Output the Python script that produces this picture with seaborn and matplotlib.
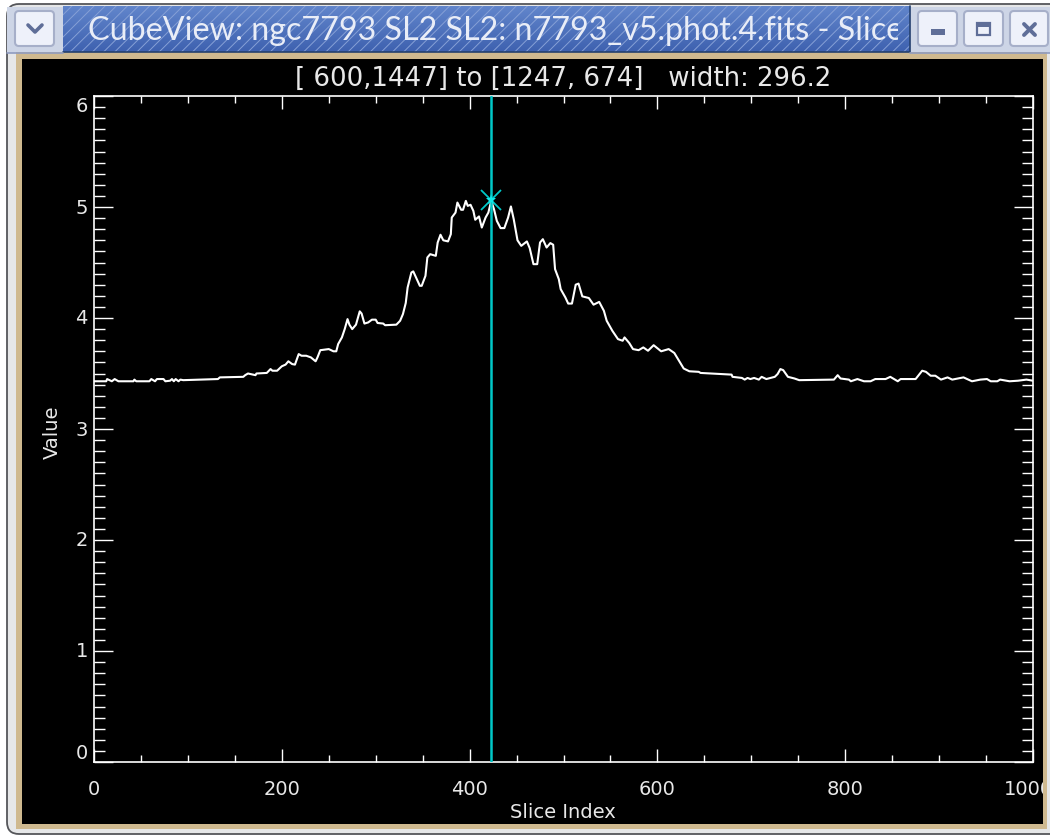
import numpy as np
import pandas as pd
import seaborn as sns
import matplotlib
matplotlib.use("Agg")
import matplotlib.pyplot as plt
from matplotlib.patches import Rectangle, FancyBboxPatch
from matplotlib.ticker import FixedLocator, MultipleLocator
from matplotlib.transforms import ScaledTranslation

window_title = "CubeView: ngc7793 SL2 SL2: n7793_v5.phot.4.fits - Slice"
plot_title = "[ 600,1447] to [1247, 674]   width: 296.2"
x_label = "Slice Index"
y_label = "Value"
x_ticks = [0, 200, 400, 600, 800, 1000]
y_ticks = [0, 1, 2, 3, 4, 5, 6]
cursor_slice = 423
cursor_value = 5.06

slice_index = [0, 1, 13, 14, 19, 22, 26, 42, 43, 45, 59, 61, 65, 67, 74, 76, 81, 83, 85, 87, 90, 92, 95,
    132, 134, 159, 161, 164, 172, 173, 184, 188, 190, 195, 200, 204, 207, 211, 214, 218, 221, 226, 231,
    236, 238, 241, 250, 255, 258, 260, 264, 267, 270, 272, 275, 279, 283, 285, 288, 292, 296, 300, 302,
    308, 310, 322, 326, 329, 332, 334, 338, 340, 343, 347, 349, 353, 355, 358, 364, 366, 369, 372, 377,
    380, 381, 385, 387, 391, 393, 396, 398, 401, 404, 406, 410, 413, 417, 420, 423, 426, 429, 433, 437,
    441, 444, 447, 451, 455, 461, 464, 468, 472, 475, 478, 482, 486, 489, 491, 495, 497, 502, 505, 509,
    513, 516, 520, 527, 532, 538, 543, 546, 552, 558, 563, 565, 570, 574, 580, 585, 590, 596, 604, 612,
    618, 623, 628, 634, 644, 646, 657, 679, 680, 690, 693, 696, 699, 703, 708, 711, 716, 725, 728, 731,
    734, 739, 746, 751, 788, 792, 795, 804, 806, 813, 820, 827, 832, 843, 848, 856, 859, 875, 882, 886,
    891, 896, 902, 909, 914, 926, 935, 944, 951, 955, 962, 965, 975, 984, 993, 1000]
value = [3.43, 3.43, 3.43, 3.45, 3.43, 3.45, 3.43, 3.43, 3.445, 3.43, 3.43, 3.45, 3.43, 3.45, 3.45, 3.43, 3.435, 3.45, 3.43, 3.45, 3.43, 3.445, 3.44,
    3.45, 3.465, 3.47, 3.485, 3.50, 3.485, 3.50, 3.505, 3.54, 3.525, 3.525, 3.565, 3.58, 3.61, 3.585, 3.58, 3.675, 3.66, 3.66, 3.645,
    3.61, 3.645, 3.71, 3.72, 3.70, 3.70, 3.765, 3.825, 3.90, 3.99, 3.94, 3.90, 3.94, 4.06, 4.04, 3.95, 3.96, 3.985, 3.985, 3.955,
    3.95, 3.935, 3.94, 3.975, 4.035, 4.135, 4.275, 4.41, 4.42, 4.365, 4.29, 4.29, 4.38, 4.545, 4.575, 4.56, 4.68, 4.75, 4.70, 4.69,
    4.755, 4.905, 4.95, 5.04, 4.975, 4.975, 5.055, 5.01, 5.02, 4.965, 4.885, 4.915, 4.815, 4.905, 4.95, 5.055, 4.98, 4.875, 4.81, 4.81,
    4.905, 5.005, 4.89, 4.70, 4.65, 4.69, 4.63, 4.485, 4.485, 4.68, 4.71, 4.635, 4.675, 4.66, 4.44, 4.35, 4.26, 4.185, 4.13, 4.13,
    4.30, 4.31, 4.195, 4.18, 4.12, 4.145, 4.065, 3.975, 3.885, 3.81, 3.795, 3.825, 3.775, 3.72, 3.71, 3.735, 3.705, 3.755, 3.70, 3.72,
    3.685, 3.615, 3.545, 3.52, 3.515, 3.505, 3.50, 3.49, 3.47, 3.46, 3.445, 3.46, 3.45, 3.46, 3.445, 3.47, 3.45, 3.47, 3.495, 3.54,
    3.53, 3.47, 3.455, 3.44, 3.445, 3.485, 3.455, 3.445, 3.43, 3.45, 3.43, 3.43, 3.45, 3.45, 3.47, 3.43, 3.45, 3.45, 3.525, 3.515,
    3.48, 3.48, 3.445, 3.465, 3.445, 3.465, 3.43, 3.445, 3.45, 3.43, 3.43, 3.445, 3.43, 3.435, 3.445, 3.435]

W, H = 1050, 837
sns.set_style("white")
plt.rcParams["font.family"] = ["DejaVu Sans"]
plt.rcParams["hatch.linewidth"] = 0.7

fig = plt.figure(figsize=(W / 100, H / 100), dpi=100, facecolor="white")

# window decoration, in pixel coordinates
base = fig.add_axes([0, 0, 1, 1], zorder=0)
base.axis("off")
base.add_patch(FancyBboxPatch((7, 5), 1080, 830, boxstyle="round,pad=0,rounding_size=12",
                              fc="#e6e7e8", ec="#55565a", lw=1.3))
base.add_patch(Rectangle((7, 8), 1043, 46, fc="#cdd5e6", ec="none"))
base.add_patch(Rectangle((16, 53), 1031, 777, fc="#cfb98f", ec="none"))
black = Rectangle((22, 60), 1021, 765, fc="black", ec="none", zorder=2)
base.add_patch(black)
grad = np.linspace(0, 1, 46)[:, None]
cols = np.array([0x62, 0x86, 0xcc])[None, None, :] * (1 - grad[..., None]) + \
       np.array([0x3f, 0x62, 0xb0])[None, None, :] * grad[..., None]
base.imshow(cols.astype(np.uint8), extent=(63, 910, 53, 7), aspect="auto", zorder=1)
base.add_patch(Rectangle((63, 7), 847, 46, fill=False, hatch="///", ec="#86a0d6", lw=0, zorder=1.1))
base.plot([63, 910, 910], [53, 53, 7], color="#24406e", lw=1.2, zorder=1.2)
base.plot([7, 63], [54, 54], color="#8f9cc0", lw=1.2, zorder=1.2)
base.plot([910, 1050], [54, 54], color="#8f9cc0", lw=1.2, zorder=1.2)
bar_clip = Rectangle((63, 7), 835, 46, transform=base.transData)
t = base.text(88, 31, window_title, color="#e9edf7", family="Lato", fontsize=23.2,
              va="center", ha="left", zorder=1.5)
t.set_clip_path(bar_clip)
t.set_clip_on(True)
for x0, x1 in [(15, 54), (918, 957), (964, 1003), (1010, 1048)]:
    base.add_patch(FancyBboxPatch((x0, 12), x1 - x0, 35, boxstyle="round,pad=0,rounding_size=4",
                                  fc="#eef1fa", ec="#a6afc9", lw=1.5, zorder=1.5))
glyph = "#5f6e98"
base.plot([28, 35, 42], [26, 33, 26], color=glyph, lw=2.6, zorder=2)
base.add_patch(Rectangle((931, 30), 14, 6, fc=glyph, ec="none", zorder=2))
base.add_patch(Rectangle((977, 24), 13, 12, fc="#eef1fa", ec=glyph, lw=1.6, zorder=2))
base.add_patch(Rectangle((977, 24), 13, 4, fc=glyph, ec="none", zorder=2))
base.plot([1024, 1035], [25, 36], color=glyph, lw=2.8, zorder=2)
base.plot([1024, 1035], [36, 25], color=glyph, lw=2.8, zorder=2)
base.set_xlim(0, W)
base.set_ylim(H, 0)

# the plot
ax = fig.add_axes([94 / W, 1 - 763 / H, (1033 - 94) / W, (763 - 97) / H], zorder=1, facecolor="black")
df = pd.DataFrame({"slice": slice_index, "value": value})
sns.lineplot(data=df, x="slice", y="value", ax=ax, color="white", lw=1.5, estimator=None, sort=False, errorbar=None)
cyan = "#00c8c8"
ax.axvline(cursor_slice, color=cyan, lw=1.8, zorder=3)
ax.plot([cursor_slice], [cursor_value], marker="x", ms=14, mew=1.3, color=cyan, zorder=4)
ax.plot([cursor_slice], [cursor_value], marker="*", ms=8, mew=0, color="#10e8e8", zorder=4)
ax.set_xlim(0, 1000)
ax.set_ylim(0, 6)
ax.set_xlabel("")
ax.set_ylabel("")
ax.xaxis.set_major_locator(FixedLocator(x_ticks))
ax.yaxis.set_major_locator(FixedLocator(y_ticks))
ax.xaxis.set_minor_locator(MultipleLocator(50))
ax.yaxis.set_minor_locator(MultipleLocator(0.1))
ax.set_xticklabels([str(v) for v in x_ticks])
ax.set_yticklabels([str(v) for v in y_ticks])
for side in ax.spines.values():
    side.set_color("white")
    side.set_linewidth(1.2)
    side.set_visible(True)
fg = "#e8e8e8"
ax.tick_params(axis="x", which="major", direction="in", top=True, bottom=True, length=9.4, width=1,
               color="white", labelcolor=fg, labelsize=14, pad=12)
ax.tick_params(axis="x", which="minor", direction="in", top=True, bottom=True, length=5, width=1, color="white")
ax.tick_params(axis="y", which="major", direction="in", left=True, right=True, length=13.7, width=1,
               color="white", labelcolor=fg, labelsize=14, pad=4.5)
ax.tick_params(axis="y", which="minor", direction="in", left=True, right=True, length=8, width=1, color="white")
for lab in ax.get_yticklabels():
    lab.set_va("center")
ylabs = ax.yaxis.get_major_ticks()
ylabs[0].label1.set_va("bottom")
ylabs[-1].label1.set_va("top")
xticks = ax.xaxis.get_major_ticks()
last = xticks[-1].label1
last.set_transform(last.get_transform() + ScaledTranslation(-5 / 100, 0, fig.dpi_scale_trans))
last.set_clip_path(black)
last.set_clip_on(True)

fig.text(563 / W, 1 - 79 / H, plot_title, color=fg, fontsize=18.7, ha="center", va="center")
fig.text(563 / W, 1 - 813 / H, x_label, color=fg, fontsize=14, ha="center", va="center")
fig.text(52 / W, 1 - 432 / H, y_label, color=fg, fontsize=14, rotation=90, ha="center", va="center")

fig.savefig("out.png", dpi=100, facecolor="white")
